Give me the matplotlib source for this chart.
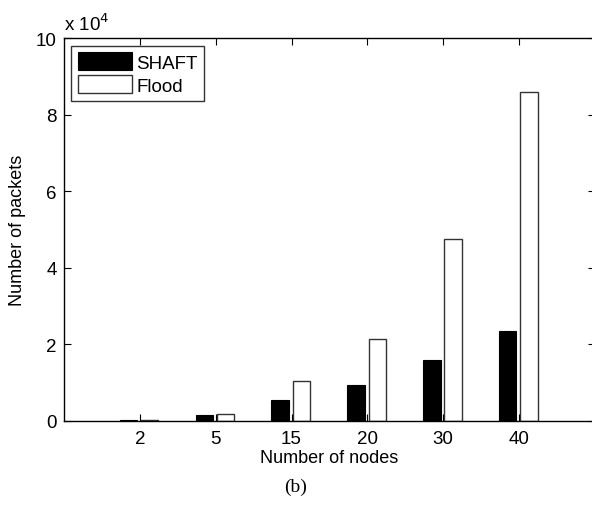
import numpy as np
import matplotlib
matplotlib.use('Agg')
import matplotlib.pyplot as plt

plt.rcParams['font.family'] = ['Liberation Sans', 'DejaVu Sans']

# data (in units of 10^4 packets)
nodes = ['2', '5', '15', '20', '30', '40']
shaft = [0.02, 0.14, 0.55, 0.92, 1.58, 2.34]
flood = [0.03, 0.17, 1.04, 2.14, 4.74, 8.59]

x = np.arange(1, len(nodes) + 1)
w = 0.23

fig = plt.figure(figsize=(5.92, 5.06), dpi=100)
ax = fig.add_axes([0.108, 0.1667, 0.897, 0.756])

ax.bar(x - 0.15, shaft, w, color='black', edgecolor='black', linewidth=0.8, label='SHAFT')
ax.bar(x + 0.13, flood, w, color='white', edgecolor='#333333', linewidth=1.0, label='Flood')

ax.set_xlim(0, 7)
ax.set_ylim(0, 10)
ax.set_xticks(x)
ax.set_xticklabels(nodes)
ax.set_yticks([0, 2, 4, 6, 8, 10])
ax.tick_params(direction='in', length=5, width=0.8, labelsize=13.5,
               top=True, right=True, pad=5)
ax.tick_params(axis='x', pad=7)
for s in ax.spines.values():
    s.set_linewidth(1.0)

ax.set_xlabel('Number of nodes', fontsize=13, labelpad=1)
ax.set_ylabel('Number of packets', fontsize=13, labelpad=7)

ax.text(0.0, 1.012, 'x 10$^{4}$', transform=ax.transAxes, fontsize=13.5,
        ha='left', va='bottom')

leg = ax.legend(loc='upper left', fontsize=13.5, frameon=True, fancybox=False,
                edgecolor='black', handlelength=2.9, handleheight=1.1,
                handletextpad=0.2, borderpad=0.35, labelspacing=0.2,
                borderaxespad=0.4)
leg.get_frame().set_linewidth(1.0)

fig.text(0.5, 0.02, '(b)', ha='center', va='bottom', fontsize=14,
         family='Liberation Serif')

fig.savefig('out.png', dpi=100)
